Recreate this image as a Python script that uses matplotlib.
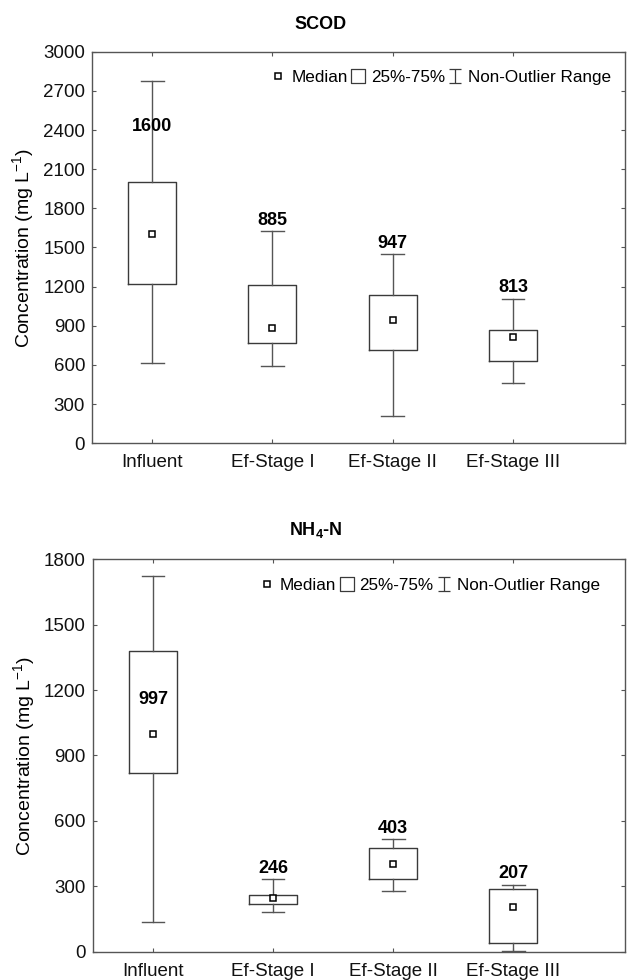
import matplotlib
matplotlib.use('Agg')
import matplotlib.pyplot as plt
from matplotlib.lines import Line2D
from matplotlib.path import Path

plt.rcParams['font.family'] = ['Liberation Sans', 'DejaVu Sans']
plt.rcParams['mathtext.fontset'] = 'custom'
plt.rcParams['mathtext.rm'] = 'Liberation Sans'
plt.rcParams['mathtext.bf'] = 'Liberation Sans:bold'
plt.rcParams['mathtext.default'] = 'regular'

# Data
categories = ['Influent', 'Ef-Stage I', 'Ef-Stage II', 'Ef-Stage III']

scod_whislo = [618, 595, 209, 465]
scod_q1 = [1222, 771, 717, 633]
scod_med = [1600, 885, 947, 813]
scod_q3 = [2005, 1213, 1139, 866]
scod_whishi = [2775, 1627, 1453, 1108]
scod_label_y = [2431, 1705, 1532, 1195]

nh4_whislo = [138, 180, 280, 5]
nh4_q1 = [818, 217, 335, 38]
nh4_med = [997, 246, 403, 207]
nh4_q3 = [1378, 261, 477, 287]
nh4_whishi = [1725, 332, 515, 307]
nh4_label_y = [1157, 381, 566, 359]

EDGE = '#3a3a3a'

# marker shapes for the legend
ibeam = Path([(-0.4, -0.5), (0.4, -0.5), (0, -0.5), (0, 0.5), (-0.4, 0.5), (0.4, 0.5)],
             [Path.MOVETO, Path.LINETO, Path.MOVETO, Path.LINETO, Path.MOVETO, Path.LINETO])
boxpath = Path([(-0.45, -0.5), (0.45, -0.5), (0.45, 0.5), (-0.45, 0.5), (-0.45, -0.5)],
               [Path.MOVETO, Path.LINETO, Path.LINETO, Path.LINETO, Path.CLOSEPOLY])


def draw_panel(ax, lo, q1, med, q3, hi, label_y, ymax, step, leg_anchor):
    stats = []
    for i in range(len(categories)):
        stats.append({'whislo': lo[i], 'q1': q1[i], 'med': med[i], 'q3': q3[i],
                      'whishi': hi[i], 'fliers': [], 'label': categories[i]})
    pos = list(range(len(categories)))
    ax.bxp(stats, positions=pos, widths=0.4, showfliers=False,
           boxprops=dict(color=EDGE, linewidth=1.0),
           whiskerprops=dict(color='#555555', linewidth=1.0),
           capprops=dict(color='#555555', linewidth=1.0),
           medianprops=dict(linewidth=0),
           capwidths=0.19)
    ax.plot(pos, med, linestyle='none', marker='s', markersize=4.5,
            markerfacecolor='white', markeredgecolor='black', markeredgewidth=1.1)
    for i in pos:
        ax.text(i, label_y[i], str(med[i]), ha='center', va='center',
                fontsize=13, fontweight='bold')

    ax.set_xlim(-0.5, 3.93)
    ax.set_ylim(0, ymax)
    ax.set_yticks(range(0, ymax + 1, step))
    ax.set_xticks(pos)
    ax.set_xticklabels(categories)
    ax.tick_params(direction='in', length=3, width=0.8, color='#555555',
                   top=True, right=True, labelsize=13.5, labelcolor='#111111')
    ax.tick_params(axis='x', pad=8)
    ax.tick_params(axis='y', pad=5)
    for s in ax.spines.values():
        s.set_color('#555555')
        s.set_linewidth(1.0)
    ax.set_ylabel('Concentration (mg L$^{-1}$)', fontsize=14, labelpad=5)

    handles = [
        Line2D([], [], linestyle='none', marker='s', markersize=4,
               markerfacecolor='white', markeredgecolor='black', markeredgewidth=1.1),
        Line2D([], [], linestyle='none', marker=boxpath, markersize=10.5,
               markerfacecolor='white', markeredgecolor=EDGE, markeredgewidth=0.9),
        Line2D([], [], linestyle='none', marker=ibeam, markersize=10.5,
               markerfacecolor='none', markeredgecolor=EDGE, markeredgewidth=0.9),
    ]
    ax.legend(handles, ['Median', '25%-75%', 'Non-Outlier Range'], ncol=3,
              loc='center right', bbox_to_anchor=leg_anchor, frameon=False,
              fontsize=12.3, handlelength=0.6, handletextpad=0.45,
              columnspacing=0.3, borderpad=0, borderaxespad=0)


fig = plt.figure(figsize=(6.28, 9.8), dpi=100)
ax1 = fig.add_axes([0.1465, 0.5477, 0.8485, 0.3995])
ax2 = fig.add_axes([0.148, 0.0289, 0.847, 0.4004])

draw_panel(ax1, scod_whislo, scod_q1, scod_med, scod_q3, scod_whishi, scod_label_y,
           3000, 300, (0.974, 0.935))
draw_panel(ax2, nh4_whislo, nh4_q1, nh4_med, nh4_q3, nh4_whishi, nh4_label_y,
           1800, 300, (0.953, 0.933))

fig.text(0.51, 0.9755, 'SCOD', ha='center', va='center', fontsize=13, fontweight='bold')
fig.text(0.503, 0.459, r'$\mathbf{NH_4}$-N', ha='center', va='center',
         fontsize=13, fontweight='bold')

fig.savefig('out.png', dpi=100)
